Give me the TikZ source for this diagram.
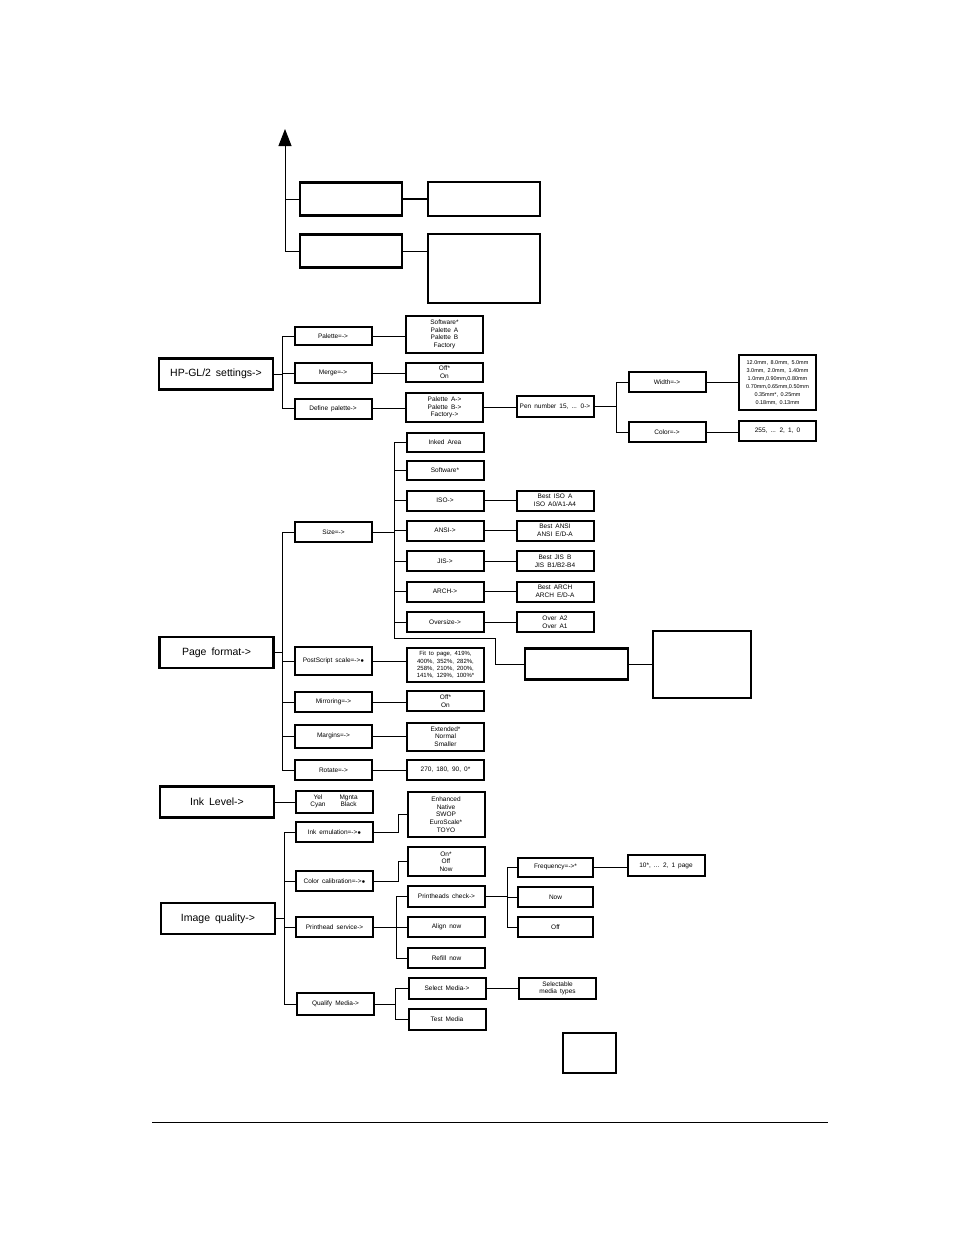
\documentclass[tikz,border=0pt]{standalone}
\usepackage{fontspec}
\setmainfont{Liberation Sans}[WordSpace=1.7]
\usetikzlibrary{arrows.meta}

\tikzset{
  menu/.style={draw, line width=2pt, minimum width=77pt, minimum height=20pt,
    inner sep=1pt, align=center, font=\fontsize{6.5}{7.6}\selectfont},
  topmenu/.style={draw, line width=2.2pt, minimum width=114pt, minimum height=31pt,
    font=\fontsize{10.5}{12}\selectfont},
  blank/.style={draw, line width=2.7pt},
  wire/.style={line width=0.9pt},
}

\begin{document}
\begin{tikzpicture}[x=1pt, y=-1pt]
  \useasboundingbox (0,0) rectangle (954,1235);

  % top part
  \node[blank, minimum width=102pt, minimum height=33pt] (t1) at (351,199) {};
  \node[blank, minimum width=112pt, minimum height=34pt] (t2) at (484,199) {};
  \node[blank, minimum width=102pt, minimum height=33pt] (t3) at (351,251) {};
  \node[blank, minimum width=112pt, minimum height=69pt] (t4) at (484,268.5) {};
  \coordinate (up) at (285,129);
  \draw[wire, -{Triangle[length=17pt, width=13pt]}] (t3.west) -| (up);
  \draw[wire] (t1.west) -- (t1.west -| up);
  \draw[line width=1.6pt] (t1) -- (t2);
  \draw[wire] (t3.east) -- (t3.east -| t4.west);

  % HP-GL/2 settings
  \node[topmenu] (hpgl) at (216,374) {HP-GL/2 settings->};
  \node[menu, minimum height=18pt] (palette) at (333,336) {Palette=->};
  \node[menu] (merge) at (333,373) {Merge=->};
  \node[menu] (defpal) at (333,408.5) {Define palette->};
  \node[menu, minimum height=37pt] (palvals) at (444.5,334.5) {Software*\\Palette A\\Palette B\\Factory};
  \node[menu, minimum height=19pt] (mergevals) at (444.5,372) {Off*\\On};
  \node[menu, minimum height=29pt] (defvals) at (444.5,407.5) {Palette A->\\Palette B->\\Factory->};
  \node[menu, minimum height=21pt] (pen) at (555,406.5) {Pen number 15, ... 0->};
  \node[menu] (width) at (667,382) {Width=->};
  \node[menu] (color) at (667,432) {Color=->};
  \node[menu, minimum height=55pt, font=\fontsize{5.5}{8}\selectfont] (widthvals) at (777.5,382.5)
    {12.0mm, 8.0mm, 5.0mm\\3.0mm, 2.0mm, 1.40mm\\1.0mm,0.90mm,0.80mm\\0.70mm,0.65mm,0.50mm\\0.35mm*, 0.25mm\\0.18mm, 0.13mm};
  \node[menu] (colorvals) at (777.5,431) {255, ... 2, 1, 0};

  \draw[wire] (palette.west) -- ++(-11,0) coordinate (ht) |- (defpal.west);
  \draw[wire] (hpgl.east) -- (hpgl.east -| ht);
  \draw[wire] (merge.west) -- (merge.west -| ht);
  \draw[wire] (palette.east) -- (palette.east -| palvals.west);
  \draw[wire] (merge.east) -- (merge.east -| mergevals.west);
  \draw[wire] (defpal.east) -- (defpal.east -| defvals.west);
  \draw[wire] (defvals.east) -- (defvals.east -| pen.west);
  \draw[wire] (width.west) -- ++(-11,0) coordinate (wt) |- (color.west);
  \draw[wire] (pen.east) -- (pen.east -| wt);
  \draw[wire] (width.east) -- (width.east -| widthvals.west);
  \draw[wire] (color.east) -- (color.east -| colorvals.west);

  % Page format
  \node[topmenu] (page) at (216.5,652.5) {Page format->};
  \node[menu] (size) at (333.5,532) {Size=->};
  \node[menu, minimum height=28pt] (pscale) at (333.5,661) {PostScript scale=->$\bullet$};
  \node[menu] (mirror) at (333.5,702) {Mirroring=->};
  \node[menu, minimum height=23pt] (margins) at (333.5,736) {Margins=->};
  \node[menu] (rotate) at (333.5,770) {Rotate=->};
  \node[menu, minimum height=19pt] (inked) at (445,442.5) {Inked Area};
  \node[menu, minimum height=19pt] (software) at (445,470.5) {Software*};
  \node[menu] (iso) at (445,500.5) {ISO->};
  \node[menu] (ansi) at (445,530.5) {ANSI->};
  \node[menu] (jis) at (445,561) {JIS->};
  \node[menu] (arch) at (445,591.5) {ARCH->};
  \node[menu] (oversize) at (445,622) {Oversize->};
  \node[menu] (isovals) at (555,500.5) {Best ISO A\\ISO A0/A1-A4};
  \node[menu] (ansivals) at (555,530.5) {Best ANSI\\ANSI E/D-A};
  \node[menu] (jisvals) at (555,561) {Best JIS B\\JIS B1/B2-B4};
  \node[menu] (archvals) at (555,591.5) {Best ARCH\\ARCH E/D-A};
  \node[menu] (oversizevals) at (555,622) {Over A2\\Over A1};
  \node[blank, minimum width=103pt, minimum height=31pt] (blankmid) at (576.5,664) {};
  \node[blank, minimum width=98pt, minimum height=67pt] (blankright) at (702,664.5) {};
  \node[menu, minimum height=34pt, font=\fontsize{6}{7.4}\selectfont] (pscalevals) at (445.5,665)
    {Fit to page, 419\%,\\400\%, 352\%, 282\%,\\258\%, 210\%, 200\%,\\141\%, 129\%, 100\%*};
  \node[menu] (mirrorvals) at (445.5,701) {Off*\\On};
  \node[menu, minimum height=28pt] (marginvals) at (445.5,736.5) {Extended*\\Normal\\Smaller};
  \node[menu] (rotatevals) at (445.5,770) {270, 180, 90, 0*};

  \draw[wire] (size.west) -- ++(-12,0) coordinate (pt) |- (rotate.west);
  \draw[wire] (page.east) -- (page.east -| pt);
  \foreach \n in {pscale,mirror,margins}
    \draw[wire] (\n.west) -- (\n.west -| pt);
  \draw[wire] (inked.west) -- ++(-11,0) coordinate (st) -- (st |- oversize.west)
    -- ++(0,16) -- ++(101,0) |- (blankmid.west);
  \draw[wire] (size.east) -- (size.east -| st);
  \foreach \n in {software,iso,ansi,jis,arch,oversize}
    \draw[wire] (\n.west) -- (\n.west -| st);
  \foreach \a/\b in {iso/isovals,ansi/ansivals,jis/jisvals,arch/archvals,oversize/oversizevals,
      pscale/pscalevals,mirror/mirrorvals,margins/marginvals,rotate/rotatevals}
    \draw[wire] (\a.east) -- (\a.east -| \b.west);
  \draw[wire] (blankmid.east) -- (blankmid.east -| blankright.west);

  % Ink Level
  \node[topmenu] (inklevel) at (217,802) {Ink Level->};
  \node[menu, minimum height=22pt] (inkvals) at (334,801.5)
    {\begin{tabular}{@{}c@{\hspace{14pt}}c@{}}Yel & Mgnta\\ Cyan & Black\end{tabular}};
  \draw[wire] (inklevel.east) -- (inklevel.east -| inkvals.west);

  % Image quality
  \node[topmenu] (imgq) at (218,918.5) {Image quality->};
  \node[menu] (inkemu) at (334.5,832) {Ink emulation=->$\bullet$};
  \node[menu] (colcal) at (334.5,881) {Color calibration=->$\bullet$};
  \node[menu] (phserv) at (334.5,927) {Printhead service->};
  \node[menu, minimum height=22pt] (qualify) at (335.5,1004) {Qualify Media->};
  \node[menu, minimum height=45pt] (inkemuvals) at (446,814.5) {Enhanced\\Native\\SWOP\\EuroScale*\\TOYO};
  \node[menu, minimum height=29pt] (colcalvals) at (446,861.5) {On*\\Off\\Now};
  \node[menu, minimum height=21pt] (phcheck) at (446.5,896.5) {Printheads check->};
  \node[menu] (align) at (446.5,927) {Align now};
  \node[menu] (refill) at (446.5,958) {Refill now};
  \node[menu, minimum height=21pt] (select) at (447,988.5) {Select Media->};
  \node[menu, minimum height=21pt] (test) at (447,1019.5) {Test Media};
  \node[menu, minimum width=75pt, minimum height=19pt] (freq) at (555.5,867) {Frequency=->*};
  \node[menu, minimum width=75pt] (now) at (555.5,897) {Now};
  \node[menu, minimum width=75pt] (off) at (555.5,927) {Off};
  \node[menu, minimum height=21pt] (freqvals) at (666,865.5) {10*, ... 2, 1 page};
  \node[menu, minimum height=21pt] (selvals) at (557.5,988.5) {Selectable\\media types};
  \node[blank, minimum width=53pt, minimum height=40pt] (small) at (589.5,1053) {};

  \draw[wire] (inkemu.west) -- ++(-11,0) coordinate (qt) |- (qualify.west);
  \draw[wire] (imgq.east) -- (imgq.east -| qt);
  \foreach \n in {colcal,phserv}
    \draw[wire] (\n.west) -- (\n.west -| qt);
  \draw[wire] (inkemu.east) -- ++(24,0) |- (inkemuvals.west);
  \draw[wire] (colcal.east) -- ++(24,0) |- (colcalvals.west);
  \draw[wire] (phcheck.west) -- ++(-11,0) coordinate (pht) |- (refill.west);
  \draw[wire] (phserv.east) -- (phserv.east -| pht);
  \draw[wire] (align.west) -- (align.west -| pht);
  \draw[wire] (freq.west) -- ++(-10,0) coordinate (ft) |- (off.west);
  \draw[wire] (phcheck.east) -- (phcheck.east -| ft);
  \draw[wire] (now.west) -- (now.west -| ft);
  \draw[wire] (freq.east) -- (freq.east -| freqvals.west);
  \draw[wire] (select.west) -- ++(-12,0) coordinate (mt) |- (test.west);
  \draw[wire] (qualify.east) -- (qualify.east -| mt);
  \draw[wire] (select.east) -- (select.east -| selvals.west);

  % rule at the foot of the page
  \draw[line width=1.2pt] (152,1122.5) -- (828,1122.5);
\end{tikzpicture}
\end{document}
